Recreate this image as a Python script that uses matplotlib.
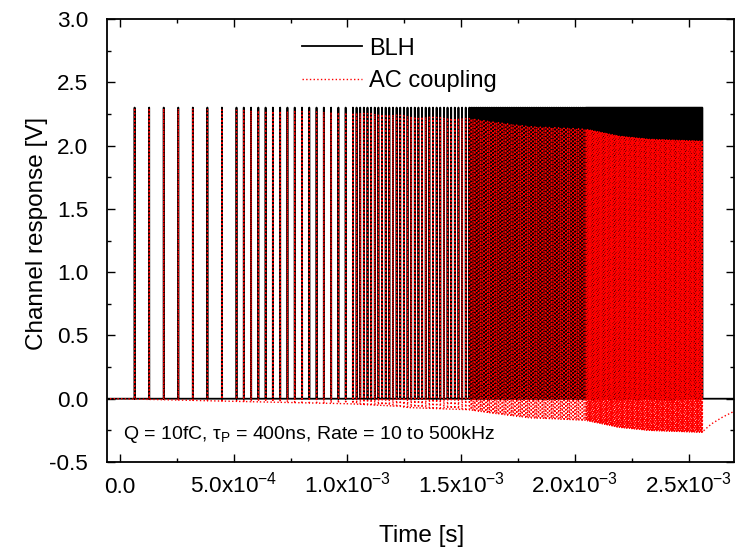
import numpy as np
import matplotlib
matplotlib.use("Agg")
import matplotlib.pyplot as plt
from matplotlib.ticker import MultipleLocator

plt.rcParams['font.family'] = ['Liberation Sans', 'DejaVu Sans']
plt.rcParams['mathtext.fontset'] = 'custom'
plt.rcParams['mathtext.rm'] = 'Liberation Sans'
plt.rcParams['mathtext.it'] = 'Liberation Sans:italic'
plt.rcParams['mathtext.default'] = 'regular'

# ---------------- data ----------------
# pulse train: groups of equally spaced pulses, the rate doubling each group
group_end_s = [5.12e-4, 1.024e-3, 1.536e-3, 2.048e-3, 2.56e-3]
group_pulses = [8, 16, 32, 64, 128]
pulse_amplitude_v = 2.3
pulse_peaking_s = 400e-9
blh_baseline_v = 0.0

# lower envelope (baseline shift) of the AC-coupled channel
ac_base_t = [-6.0e-5, 0.0, 6.6e-5, 4.83e-4, 1.01e-3, 1.23e-3, 1.27e-3, 1.537e-3,
             1.625e-3, 1.80e-3, 1.93e-3, 2.047e-3, 2.196e-3, 2.328e-3, 2.56e-3,
             2.562e-3, 2.60e-3, 2.65e-3, 2.70e-3]
ac_base_v = [0.0, 0.0, -0.003, -0.02, -0.04, -0.06, -0.07, -0.087,
             -0.11, -0.15, -0.16, -0.17, -0.226, -0.25, -0.265,
             -0.26, -0.20, -0.145, -0.10]

series_names = ['BLH', 'AC coupling']
x_tick_values = [0.0, 5e-4, 1e-3, 1.5e-3, 2e-3, 2.5e-3]
x_tick_labels = ['0.0', '5.0x10$^{-4}$', '1.0x10$^{-3}$', '1.5x10$^{-3}$',
                 '2.0x10$^{-3}$', '2.5x10$^{-3}$']
y_tick_values = [-0.5, 0.0, 0.5, 1.0, 1.5, 2.0, 2.5, 3.0]
y_tick_labels = ['-0.5', '0.0', '0.5', '1.0', '1.5', '2.0', '2.5', '3.0']
x_limits = (-5.7e-5, 2.70e-3)
y_limits = (-0.5, 3.0)

# ---------------- build traces ----------------
pulse_times = []
start = 0.0
for end, n in zip(group_end_s, group_pulses):
    period = (end - start) / n
    pulse_times.extend(start + period * np.arange(1, n + 1))
    start = end
pulse_times = np.array(pulse_times)


def build_trace(base_at_pulse, extra_t, extra_v):
    pts = []
    for tk, b in zip(pulse_times, base_at_pulse):
        pts += [(tk, b), (tk + pulse_peaking_s, b + pulse_amplitude_v),
                (tk + 3 * pulse_peaking_s, b)]
    pts += list(zip(extra_t, extra_v))
    pts.sort(key=lambda p: p[0])
    arr = np.array(pts)
    return arr[:, 0], arr[:, 1]


blh_t, blh_v = build_trace(np.full(len(pulse_times), blh_baseline_v),
                           [x_limits[0], x_limits[1]],
                           [blh_baseline_v, blh_baseline_v])
ac_t, ac_v = build_trace(np.interp(pulse_times, ac_base_t, ac_base_v),
                         ac_base_t, ac_base_v)

# ---------------- figure ----------------
W, H = 737, 547
fig = plt.figure(figsize=(W / 100, H / 100), dpi=100)
L, R, T, B = 107, 734, 19, 462
ax = fig.add_axes([L / W, (H - B) / H, (R - L) / W, (B - T) / H])

ax.plot(blh_t, blh_v, color='black', lw=1.3, label=series_names[0])
ax.plot(ac_t, ac_v, color='#ff0000', lw=1.0, ls=':', label=series_names[1])

ax.set_xlim(*x_limits)
ax.set_ylim(*y_limits)

ax.set_xticks(x_tick_values, x_tick_labels)
ax.set_yticks(y_tick_values, y_tick_labels)
ax.xaxis.set_minor_locator(MultipleLocator(2.5e-4))
ax.yaxis.set_minor_locator(MultipleLocator(0.25))
ax.tick_params(which='both', direction='in', top=True, right=True, width=1.0)
ax.tick_params(which='major', length=5.8)
ax.tick_params(which='minor', length=3.2)
ax.tick_params(axis='x', which='major', labelsize=16.2, pad=22)
ax.tick_params(axis='y', which='major', labelsize=16.2, pad=13.5)
for lab in ax.get_xticklabels():
    lab.set_va('baseline')
for sp in ax.spines.values():
    sp.set_linewidth(1.3)

ax.set_xlabel('Time [s]', fontsize=17.5, va='center')
ax.xaxis.set_label_coords(0.5016, -0.167)
ax.set_ylabel('Channel response [V]', fontsize=17.5, va='center')
ax.yaxis.set_label_coords(-0.112, 0.516)

ax.legend(loc='upper left', bbox_to_anchor=(0.311, 0.958), frameon=False,
          fontsize=17, handlelength=2.54, handletextpad=0.3, borderpad=0,
          borderaxespad=0, labelspacing=0.45)

ax.text(0.025, 0.052, 'Q = 10fC, τ$_{P}$ = 400ns, Rate = 10 to 500kHz',
        transform=ax.transAxes, fontsize=14, va='baseline', ha='left')

fig.savefig('out.png', dpi=100)
